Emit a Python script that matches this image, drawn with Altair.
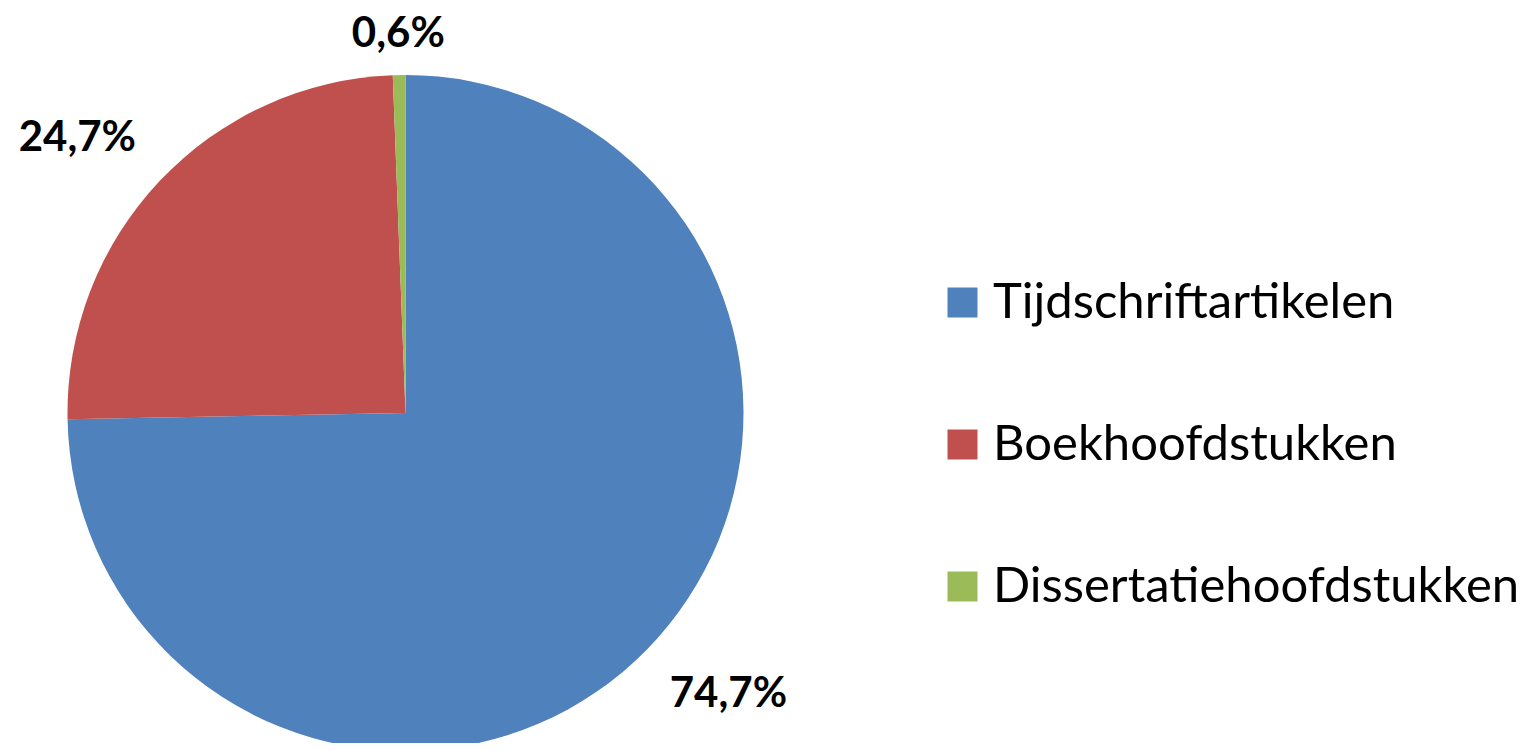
import altair as alt
import pandas as pd

categories = ["Tijdschriftartikelen", "Boekhoofdstukken", "Dissertatiehoofdstukken"]
values = [74.7, 24.7, 0.6]
labels = ["74,7%", "24,7%", "0,6%"]
colors = ["#4F81BD", "#C0504D", "#9BBB59"]

df = pd.DataFrame({
    "categorie": categories,
    "waarde": values,
    "label": labels,
    "volgorde": list(range(len(categories))),
})

color_enc = alt.Color(
    "categorie:N",
    scale=alt.Scale(domain=categories, range=colors),
    sort=categories,
    legend=alt.Legend(
        title=None,
        orient="none",
        legendX=930,
        legendY=270,
        symbolType="square",
        symbolSize=900,
        symbolStrokeWidth=0,
        labelFont="Lato",
        labelFontSize=49,
        labelColor="#000000",
        labelOffset=6,
        rowPadding=92,
        labelLimit=1000,
    ),
)

base = alt.Chart(df).encode(
    theta=alt.Theta("waarde:Q", stack=True),
    order=alt.Order("volgorde:Q"),
)

pie = base.mark_arc(outerRadius=338, stroke=None).encode(
    color=color_enc,
    x=alt.value(397.5),
    y=alt.value(405),
)

text_big = base.mark_text(
    radius=428, thetaOffset=-0.06, font="Lato", fontSize=42, fontWeight="bold",
    color="#000000", align="center", baseline="middle",
).encode(
    text="label:N",
    x=alt.value(397.5),
    y=alt.value(405),
    opacity=alt.condition(alt.datum.waarde > 5, alt.value(1), alt.value(0)),
)

text_small = base.mark_text(
    radius=379, font="Lato", fontSize=42, fontWeight="bold",
    color="#000000", align="center", baseline="middle",
).encode(
    text="label:N",
    x=alt.value(397.5),
    y=alt.value(405),
    opacity=alt.condition(alt.datum.waarde <= 5, alt.value(1), alt.value(0)),
)

chart = alt.layer(pie, text_big, text_small).properties(
    width=1516,
    height=735,
    autosize=alt.AutoSizeParams(type="none"),
    padding=0,
).configure_view(stroke=None)

chart.save("out.html", embed_options={"renderer": "svg", "actions": False})
